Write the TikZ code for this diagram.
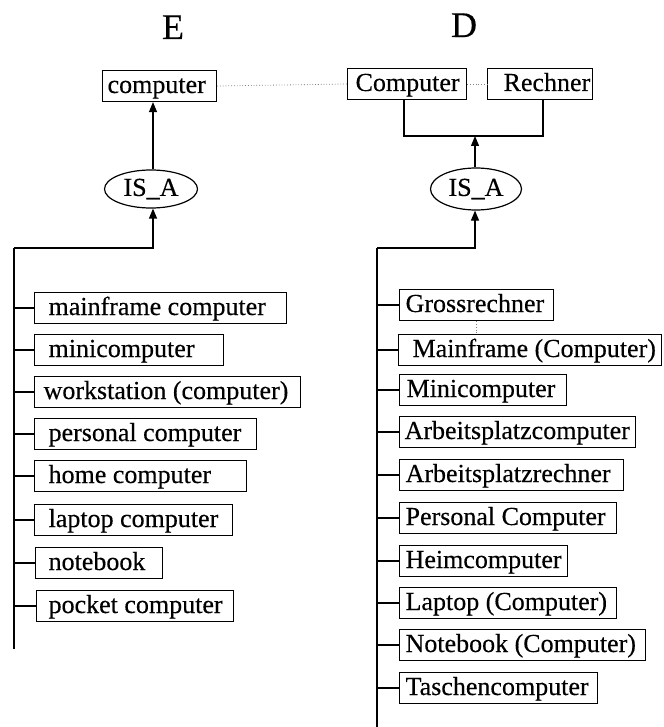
\documentclass[tikz,border=0pt]{standalone}
\usepackage{fontspec}
\setmainfont{Liberation Serif}[FakeBold=0.35]
\usetikzlibrary{arrows.meta,shapes.geometric}

% fixed-width entry: width, left indent, text
\newcommand{\entrybox}[3]{\hbox to #1pt{\hskip#2pt\rule[-7.5pt]{0pt}{29pt}#3\hfil}}

\begin{document}
\begin{tikzpicture}[x=1pt,y=-1pt,
  entry/.style={draw, line width=1.2pt, anchor=west, inner xsep=0pt, inner ysep=1pt,
                font=\fontsize{26}{28}\selectfont},
  rel/.style={draw, ellipse, line width=1.2pt, inner sep=0pt,
              font=\fontsize{26}{28}\selectfont},
  heading/.style={anchor=base, font=\fontsize{36}{40}\selectfont},
  link/.style={line width=1.2pt},
  arr/.style={line width=1.2pt, -{Triangle[length=10pt,width=8pt]}},
  equiv/.style={line width=0.8pt, gray, dotted}]
\useasboundingbox (0,0) rectangle (663,727);

% language headings
\node[heading] (hE) at (173,39) {E};
\node[heading] (hD) at (464,37) {D};

% top concepts
\node[entry] (compE) at (102,86) {\entrybox{114}{5}{computer}};
\node[entry] (compD) at (347,84) {\entrybox{119}{8}{Computer}};
\node[entry] (rech)  at (487,84) {\entrybox{105}{16}{Rechner}};
\draw[equiv] (compE.east) -- (compD.west);
\draw[equiv] (compD.east) -- (rech.west);

% relation nodes
\node[rel, minimum width=93pt, minimum height=38pt] (isaL) at (151,189) {IS\_A};
\node[rel, minimum width=91pt, minimum height=42pt] (isaR) at (476,189) {IS\_A};

% English side
\coordinate (spineL) at (14,248);
\coordinate (hubL) at (153,248);
\coordinate (endL) at (14,649);
\draw[arr] (isaL.north -| hubL) -- (compE.south -| hubL);
\draw[arr] (spineL) -- (hubL) -- (isaL.south -| hubL);
\draw[link] (spineL) -- (endL);

\node[entry] (e1) at (34,308) {\entrybox{252}{14}{mainframe computer}};
\node[entry] (e2) at (34,350) {\entrybox{189}{14}{minicomputer}};
\node[entry] (e3) at (34,392) {\entrybox{266}{9}{workstation (computer)}};
\node[entry] (e4) at (34,434) {\entrybox{222}{14}{personal computer}};
\node[entry] (e5) at (34,476) {\entrybox{212}{14}{home computer}};
\node[entry] (e6) at (34,520) {\entrybox{198}{14}{laptop computer}};
\node[entry] (e7) at (35,563) {\entrybox{127}{13}{notebook}};
\node[entry] (e8) at (36,606) {\entrybox{197}{12}{pocket computer}};
\foreach \n in {e1,e2,e3,e4,e5,e6,e7,e8}
  \draw[link] (\n.west) -- (\n.west -| spineL);

% German side
\coordinate (brL) at (404,136);
\coordinate (brR) at (543,136);
\draw[link] (compD.south -| brL) -- (brL) -- (brR) -- (rech.south -| brR);
\coordinate (spineR) at (377,248);
\coordinate (hubR) at (475,248);
\coordinate (endR) at (377,727);
\draw[arr] (isaR.north -| hubR) -- (brL -| hubR);
\draw[arr] (spineR) -- (hubR) -- (isaR.south -| hubR);
\draw[link] (spineR) -- (endR);

\node[entry] (d1)  at (399,305) {\entrybox{154}{6}{Grossrechner}};
\node[entry] (d2)  at (398,350) {\entrybox{263}{14}{Mainframe (Computer)}};
\node[entry] (d3)  at (399,390) {\entrybox{167}{7}{Minicomputer}};
\node[entry] (d4)  at (399,432) {\entrybox{236}{5}{Arbeitsplatzcomputer}};
\node[entry] (d5)  at (399,475) {\entrybox{224}{6}{Arbeitsplatzrechner}};
\node[entry] (d6)  at (399,518) {\entrybox{217}{6}{Personal Computer}};
\node[entry] (d7)  at (399,561) {\entrybox{168}{6}{Heimcomputer}};
\node[entry] (d8)  at (399,603) {\entrybox{217}{6}{Laptop (Computer)}};
\node[entry] (d9)  at (399,645) {\entrybox{246}{6}{Notebook (Computer)}};
\node[entry] (d10) at (399,688) {\entrybox{198}{6}{Taschencomputer}};
\foreach \n in {d1,d2,d3,d4,d5,d6,d7,d8,d9,d10}
  \draw[link] (\n.west) -- (\n.west -| spineR);

% synonym link between the first two German entries
\coordinate (synx) at (476,0);
\draw[equiv] (d1.south -| synx) -- (d2.north -| synx);
\end{tikzpicture}
\end{document}
